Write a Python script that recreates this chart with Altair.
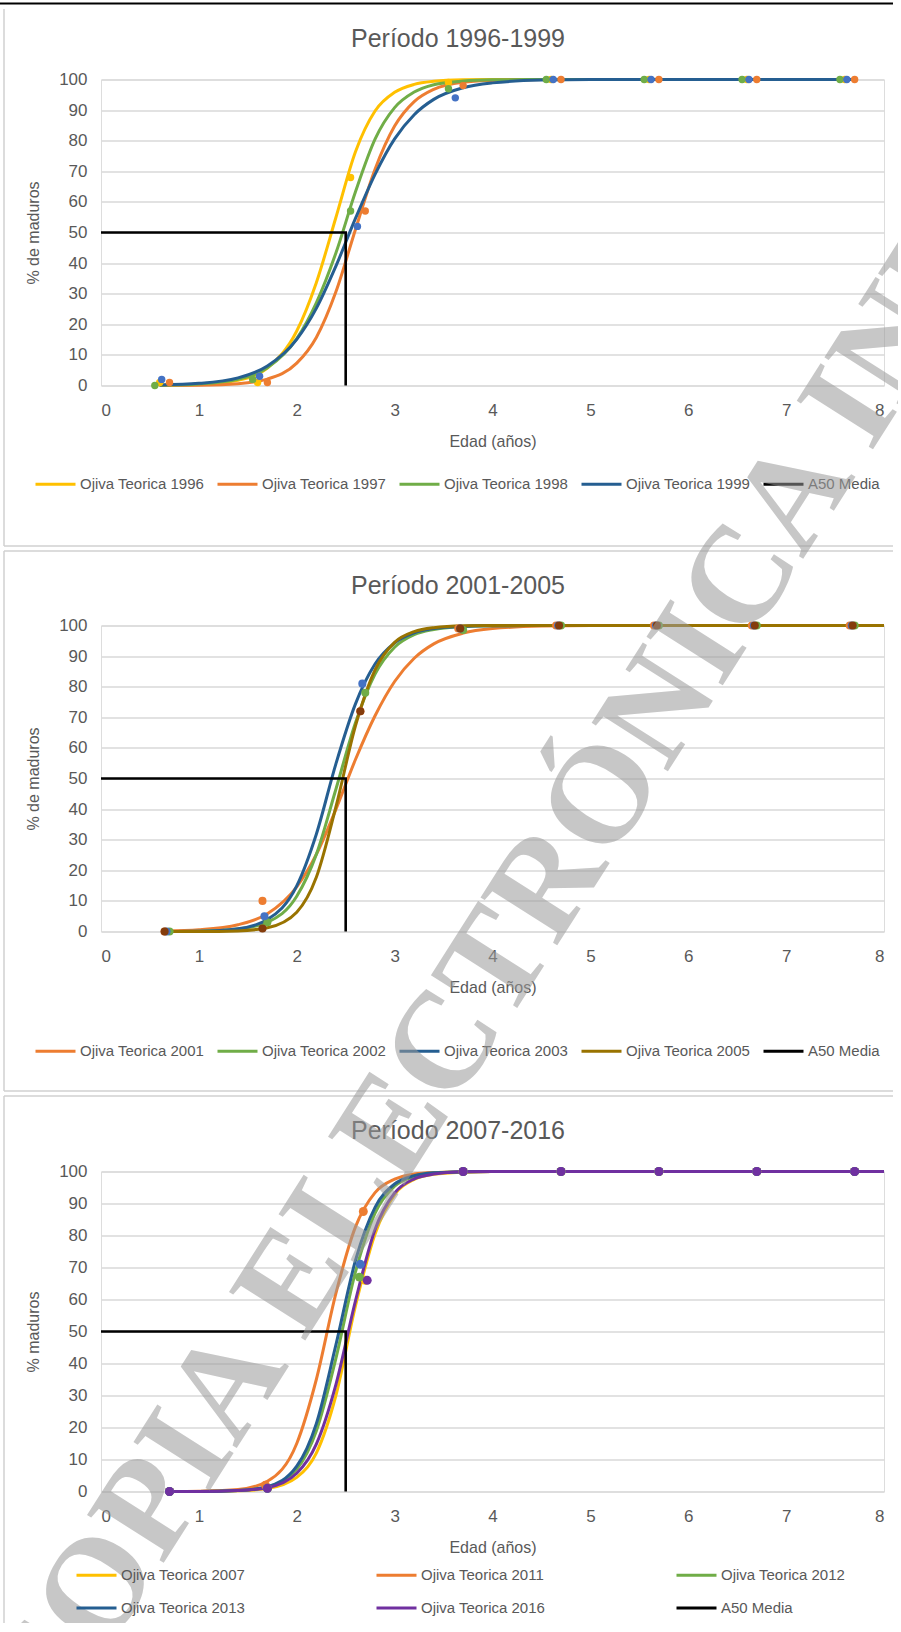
import altair as alt
import pandas as pd

FONT = "Liberation Sans"
TXT = "#595959"
GRID = "#D9D9D9"
BORDER = "#D0D0D0"
PLOT_W = 783

# ---------------- Período 1996-1999 ----------------
p1_series = ["Ojiva Teorica 1996", "Ojiva Teorica 1997", "Ojiva Teorica 1998",
             "Ojiva Teorica 1999", "A50 Media"]
p1_colors = ["#FFC000", "#ED7D31", "#70AD47", "#255E91", "#000000"]
p1_edad = [0.6, 1.0, 1.4, 1.7, 2.0, 2.2, 2.4, 2.6, 2.8, 3.0, 3.2, 3.4, 3.7, 4.0, 4.5, 5.0, 6.0, 7.0, 7.7]
ojiva_1996 = [0.1, 0.3, 1.7, 5.7, 17.8, 33.6, 54.9, 76.4, 89.7, 95.8, 98.4, 99.4, 99.9, 100, 100, 100, 100, 100, 100]
ojiva_1997 = [0.0, 0.1, 0.6, 2.1, 7.3, 15.7, 30.6, 51.0, 70.7, 84.8, 92.8, 96.8, 99.1, 99.7, 100, 100, 100, 100, 100]
ojiva_1998 = [0.1, 0.5, 2.0, 5.8, 15.3, 27.0, 43.3, 63.3, 80.5, 90.8, 95.9, 98.3, 99.5, 99.9, 100, 100, 100, 100, 100]
ojiva_1999 = [0.2, 0.7, 2.5, 6.4, 15.1, 25.2, 39.0, 54.6, 69.0, 80.6, 88.5, 93.5, 97.3, 98.9, 99.8, 100, 100, 100, 100]

obs_1996_edad = [0.6, 1.6, 2.55, 3.55, 4.6, 5.6, 6.6, 7.6]
obs_1996_pct = [1, 1, 68, 99, 100, 100, 100, 100]
obs_1997_edad = [0.7, 1.7, 2.7, 3.7, 4.7, 5.7, 6.7, 7.7]
obs_1997_pct = [1, 1, 57, 98, 100, 100, 100, 100]
obs_1998_edad = [0.55, 1.55, 2.55, 3.55, 4.55, 5.55, 6.55, 7.55]
obs_1998_pct = [0, 2, 57, 97, 100, 100, 100, 100]
obs_1999_edad = [0.62, 1.62, 2.62, 3.62, 4.62, 5.62, 6.62, 7.62]
obs_1999_pct = [2, 3, 52, 94, 100, 100, 100, 100]
p1_marker_colors = ["#FFC000", "#ED7D31", "#70AD47", "#4472C4"]

# ---------------- Período 2001-2005 ----------------
p2_series = ["Ojiva Teorica 2001", "Ojiva Teorica 2002", "Ojiva Teorica 2003",
             "Ojiva Teorica 2005", "A50 Media"]
p2_colors = ["#ED7D31", "#70AD47", "#255E91", "#997300", "#000000"]
p2_edad = [0.65, 1.0, 1.4, 1.7, 2.0, 2.2, 2.4, 2.6, 2.8, 3.0, 3.2, 3.4, 3.7, 4.0, 4.5, 5.0, 6.0, 7.0, 8.0]
ojiva_2001 = [0.2, 0.6, 2.2, 5.8, 14.6, 25.2, 39.9, 56.2, 70.5, 81.7, 89.3, 94.0, 97.5, 99.0, 99.8, 100, 100, 100, 100]
ojiva_2002 = [0.0, 0.1, 0.8, 3.0, 11.5, 25.2, 46.5, 68.2, 84.1, 92.9, 97.0, 98.7, 99.7, 99.9, 100, 100, 100, 100, 100]
ojiva_2003 = [0.0, 0.1, 0.9, 3.9, 14.9, 31.8, 54.8, 74.4, 87.4, 94.3, 97.6, 99.0, 99.7, 99.9, 100, 100, 100, 100, 100]
ojiva_2005 = [0.0, 0.0, 0.2, 1.2, 6.3, 17.7, 40.7, 67.2, 85.5, 94.5, 98.0, 99.3, 99.9, 100, 100, 100, 100, 100, 100]

obs_2001_edad = [0.65, 1.65, 2.65, 3.65, 4.65, 5.65, 6.65, 7.65]
obs_2001_pct = [0, 10, 72, 99, 100, 100, 100, 100]
obs_2002_edad = [0.7, 1.7, 2.7, 3.7, 4.7, 5.7, 6.7, 7.7]
obs_2002_pct = [0, 3, 78, 98.5, 100, 100, 100, 100]
obs_2003_edad = [0.67, 1.67, 2.67, 3.67, 4.67, 5.67, 6.67, 7.67]
obs_2003_pct = [0, 5, 81, 99, 100, 100, 100, 100]
obs_2005_edad = [0.65, 1.65, 2.65, 3.67, 4.68, 5.68, 6.68, 7.68]
obs_2005_pct = [0, 1, 72, 99, 100, 100, 100, 100]
p2_marker_colors = ["#ED7D31", "#70AD47", "#4472C4", "#843C0C"]

# ---------------- Período 2007-2016 ----------------
p3_series = ["Ojiva Teorica 2007", "Ojiva Teorica 2011", "Ojiva Teorica 2012",
             "Ojiva Teorica 2013", "Ojiva Teorica 2016", "A50 Media"]
p3_colors = ["#FFC000", "#ED7D31", "#70AD47", "#255E91", "#7030A0", "#000000"]
p3_edad = [0.7, 1.0, 1.4, 1.7, 2.0, 2.2, 2.4, 2.6, 2.8, 3.0, 3.2, 3.4, 3.7, 4.0, 4.5, 5.0, 6.0, 7.0, 8.0]
ojiva_2007 = [0.0, 0.0, 0.2, 0.9, 4.4, 12.0, 30.0, 58.0, 80.5, 92.8, 97.5, 99.1, 99.8, 100, 100, 100, 100, 100, 100]
ojiva_2011 = [0.0, 0.1, 0.6, 3.2, 15.0, 35.0, 61.9, 82.7, 93.4, 97.6, 99.2, 99.7, 99.9, 100, 100, 100, 100, 100, 100]
ojiva_2012 = [0.0, 0.0, 0.3, 1.4, 7.0, 18.9, 41.6, 68.6, 87.0, 95.4, 98.4, 99.5, 99.9, 100, 100, 100, 100, 100, 100]
ojiva_2013 = [0.0, 0.0, 0.3, 1.5, 7.9, 21.2, 45.8, 72.2, 88.8, 96.1, 98.7, 99.6, 99.9, 100, 100, 100, 100, 100, 100]
ojiva_2016 = [0.0, 0.0, 0.3, 1.2, 5.7, 14.8, 33.4, 59.6, 81.9, 93.3, 97.7, 99.2, 99.9, 100, 100, 100, 100, 100, 100]

obs_2007_edad = [0.7, 1.7, 2.7, 3.7, 4.7, 5.7, 6.7, 7.7]
obs_2007_pct = [0, 1, 66, 100, 100, 100, 100, 100]
obs_2011_edad = [0.7, 1.68, 2.68, 3.7, 4.7, 5.7, 6.7, 7.7]
obs_2011_pct = [0, 2, 87.5, 100, 100, 100, 100, 100]
obs_2012_edad = [0.7, 1.7, 2.64, 3.7, 4.7, 5.7, 6.7, 7.7]
obs_2012_pct = [0, 1, 67, 100, 100, 100, 100, 100]
obs_2013_edad = [0.7, 1.7, 2.65, 3.7, 4.7, 5.7, 6.7, 7.7]
obs_2013_pct = [0, 1, 71, 100, 100, 100, 100, 100]
obs_2016_edad = [0.7, 1.7, 2.72, 3.7, 4.7, 5.7, 6.7, 7.7]
obs_2016_pct = [0, 1, 66, 100, 100, 100, 100, 100]
p3_marker_colors = ["#FFC000", "#ED7D31", "#70AD47", "#4472C4", "#7030A0"]

# mean age at first maturity reference path
a50_edad = [0, 2.5, 2.5]
a50_pct = [50, 50, 0]

x_ticks = [0, 1, 2, 3, 4, 5, 6, 7, 8]
y_ticks = [0, 10, 20, 30, 40, 50, 60, 70, 80, 90, 100]

# diagonal document stamp printed across the page
sello = "COPIA ELECTRÓNICA IND"


def curves_frame(names, edad, curves):
    rows = []
    for name, vals in zip(names, curves):
        for e, v in zip(edad, vals):
            rows.append({"serie": name, "edad": e, "pct": v})
    return pd.DataFrame(rows)


def obs_frame(colors, pairs):
    rows = []
    for c, (xs, ys) in zip(colors, pairs):
        for e, v in zip(xs, ys):
            rows.append({"mc": c, "edad": e, "pct": v})
    return pd.DataFrame(rows)


def a50_frame():
    return pd.DataFrame({"serie": "A50 Media", "edad": a50_edad, "pct": a50_pct,
                         "i": list(range(len(a50_edad)))})


def one_row():
    return pd.DataFrame({"k": [0]})


def rule(x, x2, y, y2, color, width):
    return alt.Chart(one_row()).mark_rule(color=color, strokeWidth=width).encode(
        x=alt.value(x), x2=alt.value(x2), y=alt.value(y), y2=alt.value(y2))


def panel(titulo, ytitulo, h, names, colors, cdf, odf, msize, leg, deco, title_y, extra=()):
    xenc = alt.X("edad:Q", scale=alt.Scale(domain=[0, 8], nice=False),
                 axis=alt.Axis(values=x_ticks, format="d", title="Edad (años)", grid=False,
                               domain=False, ticks=False, tickSize=0, labelPadding=17,
                               titlePadding=15, labelFontSize=17, titleFontSize=16,
                               labelColor=TXT, titleColor=TXT, titleFontWeight="normal",
                               labelFont=FONT, titleFont=FONT, labelOverlap=False))
    yenc = alt.Y("pct:Q", scale=alt.Scale(domain=[0, 100], nice=False),
                 axis=alt.Axis(values=y_ticks, format="d", title=ytitulo, grid=True,
                               gridColor=GRID, gridWidth=1.4, domain=False, ticks=False,
                               tickSize=0, labelPadding=14, titlePadding=17,
                               labelFontSize=17, titleFontSize=16, labelColor=TXT,
                               titleColor=TXT, titleFontWeight="normal",
                               labelFont=FONT, titleFont=FONT, labelOverlap=False))
    color = alt.Color("serie:N", scale=alt.Scale(domain=names, range=colors), sort=names,
                      legend=alt.Legend(title=None, orient="none", direction="horizontal",
                                        symbolType="stroke", symbolSize=1600,
                                        symbolStrokeWidth=3, labelFontSize=15,
                                        labelFont=FONT, labelColor=TXT, labelOffset=3,
                                        padding=0, **leg))
    lines = alt.Chart(cdf).mark_line(interpolate="monotone", strokeWidth=3).encode(
        x=xenc, y=yenc, color=color)
    dots = alt.Chart(odf).mark_circle(size=msize, opacity=1).encode(
        x=xenc, y=yenc, fill=alt.Fill("mc:N", scale=None))
    a50 = alt.Chart(a50_frame()).mark_line(strokeWidth=2.6).encode(
        x=xenc, y=yenc, color=color, order="i:Q")
    head = alt.Chart(pd.DataFrame({"t": [titulo]})).mark_text(
        fontSize=25, font=FONT, color=TXT, align="center", baseline="middle"
    ).encode(text="t:N", x=alt.value(357), y=alt.value(title_y))
    return alt.layer(lines, dots, a50, *deco, head, *extra).properties(width=PLOT_W, height=h)


stamp = alt.Chart(pd.DataFrame({"t": [sello]})).mark_text(
    font="Liberation Serif", fontWeight="bold", fontSize=138, angle=302.5,
    color="#9A9A9A", opacity=0.55, align="center", baseline="middle"
).encode(text="t:N", x=alt.value(393), y=alt.value(-203.5))

c1 = panel("Período 1996-1999", "% de maduros", 306, p1_series, p1_colors,
           curves_frame(p1_series[:4], p1_edad, [ojiva_1996, ojiva_1997, ojiva_1998, ojiva_1999]),
           obs_frame(p1_marker_colors, [(obs_1996_edad, obs_1996_pct), (obs_1997_edad, obs_1997_pct),
                                        (obs_1998_edad, obs_1998_pct), (obs_1999_edad, obs_1999_pct)]),
           55, dict(legendX=-67, legendY=383, columns=5, columnPadding=6),
           [rule(-106, 792, -76, -76, "#000000", 2),
            rule(-97, -97, -70.5, 466.5, BORDER, 1.5),
            rule(-97, 792, 466.5, 466.5, BORDER, 1.5)],
           -40.5)

c2 = panel("Período 2001-2005", "% de maduros", 306, p2_series, p2_colors,
           curves_frame(p2_series[:4], p2_edad, [ojiva_2001, ojiva_2002, ojiva_2003, ojiva_2005]),
           obs_frame(p2_marker_colors, [(obs_2001_edad, obs_2001_pct), (obs_2002_edad, obs_2002_pct),
                                        (obs_2003_edad, obs_2003_pct), (obs_2005_edad, obs_2005_pct)]),
           65, dict(legendX=-67, legendY=404, columns=5, columnPadding=6),
           [rule(-97, 792, -74.5, -74.5, BORDER, 1.5),
            rule(-97, -97, -74.5, 465.5, BORDER, 1.5),
            rule(-97, 792, 465.5, 465.5, BORDER, 1.5)],
           -39.5)

c3 = panel("Período 2007-2016", "% maduros", 320, p3_series, p3_colors,
           curves_frame(p3_series[:5], p3_edad, [ojiva_2007, ojiva_2011, ojiva_2012, ojiva_2013, ojiva_2016]),
           obs_frame(p3_marker_colors, [(obs_2007_edad, obs_2007_pct), (obs_2011_edad, obs_2011_pct),
                                        (obs_2012_edad, obs_2012_pct), (obs_2013_edad, obs_2013_pct),
                                        (obs_2016_edad, obs_2016_pct)]),
           80, dict(legendX=-26, legendY=382, columns=3, columnPadding=124, rowPadding=3,
                    gridAlign="all"),
           [rule(-97, 792, -75.5, -75.5, BORDER, 1.5),
            rule(-97, -97, -75.5, 461.5, BORDER, 1.5)],
           -40.5, extra=(stamp,))

# the stamp overhangs the page on three sides; negative padding trims it to the sheet
chart = alt.vconcat(c1, c2, c3, spacing=240, bounds="flush").resolve_scale(
    color="independent", fill="independent"
).resolve_legend(color="independent").properties(
    padding={"left": -47, "top": 1.5, "right": -137, "bottom": -139.2},
    background="white",
).configure_view(stroke=None).configure(font=FONT)

chart.save("out.html", embed_options={"renderer": "svg", "actions": False})
